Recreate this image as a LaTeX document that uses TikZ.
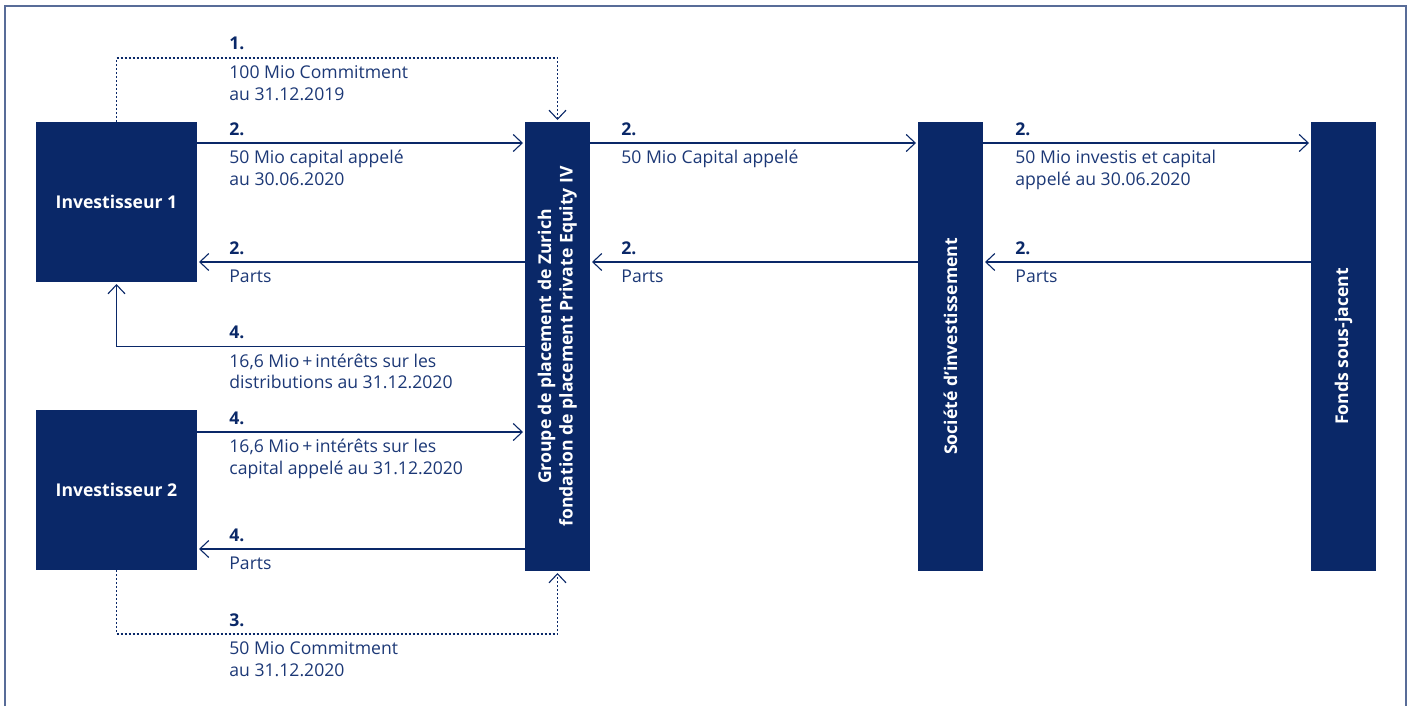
\documentclass[tikz,border=0pt]{standalone}
\usepackage{fontspec}
\setmainfont{Open Sans}
\usetikzlibrary{positioning}
\usetikzlibrary{calc}
\usetikzlibrary{arrows.meta}
\newcommand{\txtsize}{\fontsize{8.8}{10.75}\selectfont}
\definecolor{zblue}{RGB}{10,40,104}
\definecolor{ztext}{RGB}{28,56,118}
\definecolor{zframe}{RGB}{88,108,152}

\begin{document}
\begin{tikzpicture}[x=0.5pt, y=-0.5pt,
    box/.style={fill=zblue, text=white, font=\txtsize\bfseries, inner sep=0pt, outer sep=0pt},
    invbox/.style={box, minimum width=80.5pt, minimum height=80pt},
    tallbox/.style={box, minimum width=32.5pt, minimum height=224.5pt},
    arrow/.style={-{Straight Barb[length=4.5pt, width=8.5pt]}, zblue, line width=0.55pt, shorten >=1pt},
    dotarrow/.style={arrow, dash pattern=on 1pt off 1pt},
    num/.style={anchor=base west, inner sep=0pt, yshift=4pt, text=zblue, font=\txtsize\bfseries},
    lbl/.style={anchor=base west, inner sep=0pt, yshift=-10.4pt, text=ztext, font=\txtsize, align=left},
    lbltwo/.style={lbl, yshift=-10.75pt},
]
\useasboundingbox (0,0) rectangle (1411,706);
\draw[zframe, line width=1pt] (5,706) -- (5,6) -- (1406,6) -- (1406,706);

\node[invbox] (inva) at (116.5,202) {Investisseur 1};
\node[invbox, below=64pt of inva] (invb) {Investisseur 2};
\node[tallbox, right=164pt of inva.north east, anchor=north west] (groupe) {\rotatebox{90}{\begin{tabular}{@{}c@{}}Groupe de placement de Zurich\\fondation de placement Private Equity IV\end{tabular}}};
\node[tallbox, right=164pt of groupe] (societe) {\rotatebox{90}{Société d’investissement}};
\node[tallbox, right=164pt of societe] (fonds) {\rotatebox{90}{Fonds sous-jacent}};

\coordinate (lvltop) at (0,58);
\coordinate (lvla) at (0,143);
\coordinate (lvlb) at (0,262);
\coordinate (lvld) at (0,432);
\coordinate (lvle) at (0,549);
\coordinate (lvlbot) at (0,634);
\coordinate[right=16pt of inva.east] (colL);
\coordinate[right=15.5pt of groupe.east] (colM);
\coordinate[right=16pt of societe.east] (colR);

\draw[dotarrow] (inva.north) |- (groupe.north |- lvltop) -- (groupe.north);
\draw[arrow] (inva.east |- lvla) -- (groupe.west |- lvla);
\draw[arrow] (groupe.east |- lvla) -- (societe.west |- lvla);
\draw[arrow] (societe.east |- lvla) -- (fonds.west |- lvla);
\draw[arrow] (fonds.west |- lvlb) -- (societe.east |- lvlb);
\draw[arrow] (societe.west |- lvlb) -- (groupe.east |- lvlb);
\draw[arrow] (groupe.west |- lvlb) -- (inva.east |- lvlb);
\draw[arrow] (groupe.west) -| (inva.south);
\draw[arrow] (invb.east |- lvld) -- (groupe.west |- lvld);
\draw[arrow] (groupe.west |- lvle) -- (invb.east |- lvle);
\draw[dotarrow] (invb.south) |- (groupe.south |- lvlbot) -- (groupe.south);

\node[num] (n1) at (colL |- lvltop) {1.};
\node[lbltwo] (t1) at (colL |- lvltop) {100 Mio Commitment\\au 31.12.2019};
\node[num] (n2a) at (colL |- lvla) {2.};
\node[lbltwo] (t2a) at (colL |- lvla) {50 Mio capital appelé\\au 30.06.2020};
\node[num] (n2b) at (colM |- lvla) {2.};
\node[lbl] (t2b) at (colM |- lvla) {50 Mio Capital appelé};
\node[num] (n2c) at (colR |- lvla) {2.};
\node[lbltwo] (t2c) at (colR |- lvla) {50 Mio investis et capital\\appelé au 30.06.2020};
\node[num] (n2d) at (colL |- lvlb) {2.};
\node[lbl] (t2d) at (colL |- lvlb) {Parts};
\node[num] (n2e) at (colM |- lvlb) {2.};
\node[lbl] (t2e) at (colM |- lvlb) {Parts};
\node[num] (n2f) at (colR |- lvlb) {2.};
\node[lbl] (t2f) at (colR |- lvlb) {Parts};
\node[num] (n4a) at (colL |- groupe.west) {4.};
\node[lbltwo] (t4a) at (colL |- groupe.west) {16,6 Mio\,+\,intérêts sur les\\distributions au 31.12.2020};
\node[num] (n4b) at (colL |- lvld) {4.};
\node[lbltwo] (t4b) at (colL |- lvld) {16,6 Mio\,+\,intérêts sur les\\capital appelé au 31.12.2020};
\node[num] (n4c) at (colL |- lvle) {4.};
\node[lbl] (t4c) at (colL |- lvle) {Parts};
\node[num] (n3) at (colL |- lvlbot) {3.};
\node[lbltwo] (t3) at (colL |- lvlbot) {50 Mio Commitment\\au 31.12.2020};
\end{tikzpicture}
\end{document}
